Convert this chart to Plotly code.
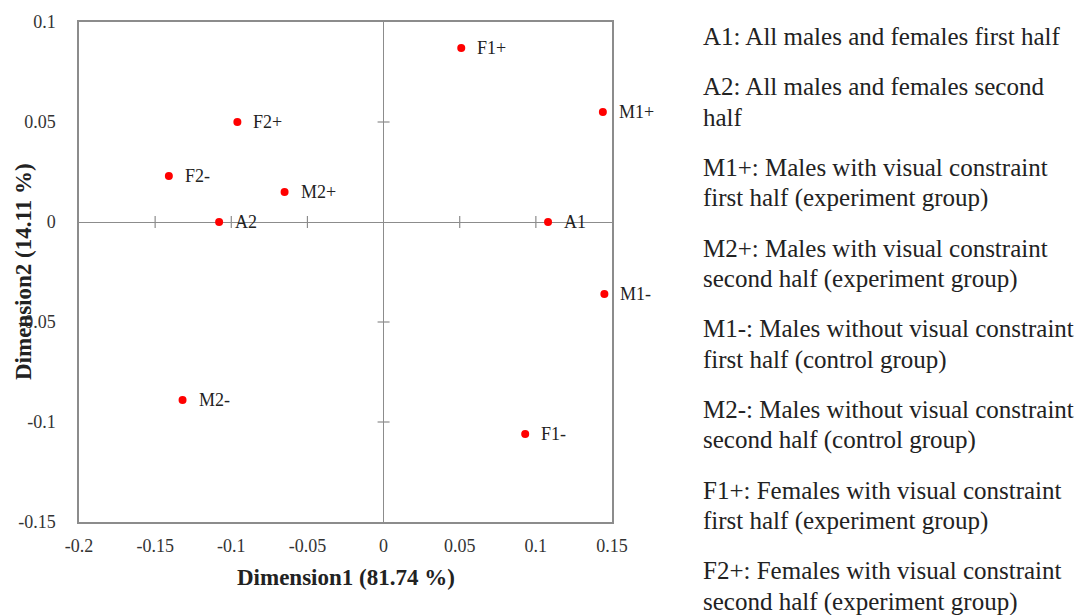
import plotly.graph_objects as go

labels = ["F1+", "M1+", "A1", "M1-", "F1-", "F2+", "F2-", "M2+", "A2", "M2-"]
dim1 = [0.051, 0.144, 0.108, 0.145, 0.093, -0.096, -0.141, -0.065, -0.108, -0.132]
dim2 = [0.087, 0.055, 0.0, -0.036, -0.106, 0.050, 0.023, 0.015, 0.0, -0.089]

x_ticks = [-0.2, -0.15, -0.1, -0.05, 0, 0.05, 0.1, 0.15]
x_ticklabels = ["-0.2", "-0.15", "-0.1", "-0.05", "0", "0.05", "0.1", "0.15"]
y_ticks = [-0.15, -0.1, -0.05, 0, 0.05, 0.1]
y_ticklabels = ["-0.15", "-0.1", "-0.05", "0", "0.05", "0.1"]

legend_lines = [
    ["A1: All males and females first half"],
    ["A2: All males and females second", "half"],
    ["M1+: Males with visual constraint", "first half (experiment group)"],
    ["M2+: Males with visual constraint", "second half (experiment group)"],
    ["M1-: Males without visual constraint", "first half (control group)"],
    ["M2-: Males without visual constraint", "second half (control group)"],
    ["F1+: Females with visual constraint", "first half (experiment group)"],
    ["F2+: Females with visual constraint", "second half (experiment group)"],
]

SERIF = "Liberation Serif"
GRAY = "#8c8c8c"

fig = go.Figure()
fig.add_trace(go.Scatter(
    x=dim1, y=dim2, mode="markers",
    marker=dict(color="#ff0000", size=8),
    hoverinfo="skip", showlegend=False,
))

# point labels
for xv, yv, t in zip(dim1, dim2, labels):
    fig.add_annotation(x=xv, y=yv, text=t, showarrow=False, xanchor="left",
                       yanchor="middle", xshift=14,
                       font=dict(family=SERIF, size=18, color="#222"))

# cross axis lines through origin with tick marks
inner_x = [v for v in x_ticks if v not in (x_ticks[0], x_ticks[-1], 0)]
inner_y = [v for v in y_ticks if v not in (y_ticks[0], y_ticks[-1], 0)]
for v in inner_x:
    fig.add_shape(type="line", xref="x", yref="y", x0=v, x1=v,
                  ysizemode="pixel", yanchor=0, y0=-6, y1=6,
                  line=dict(color=GRAY, width=1.2))
for v in inner_y:
    fig.add_shape(type="line", xref="x", yref="y", y0=v, y1=v,
                  xsizemode="pixel", xanchor=0, x0=-6, x1=6,
                  line=dict(color=GRAY, width=1.2))

# axis titles
fig.add_annotation(xref="paper", yref="paper", x=0.5, y=0, yshift=-55,
                   text="<b>Dimension1 (81.74 %)</b>", showarrow=False,
                   xanchor="center", yanchor="middle",
                   font=dict(family=SERIF, size=23, color="#222"))
fig.add_annotation(xref="paper", yref="paper", x=0, y=0.5, xshift=-56,
                   text="<b>Dimension2 (14.11 %)</b>", showarrow=False,
                   textangle=-90, xanchor="center", yanchor="middle",
                   font=dict(family=SERIF, size=23, color="#222"))

# legend text on right
y_pos = 35
for entry in legend_lines:
    for i, line in enumerate(entry):
        fig.add_annotation(xref="paper", yref="paper", x=1.0, y=1 - (y_pos - 20) / 502,
                           xshift=89, text=line, showarrow=False,
                           xanchor="left", yanchor="middle",
                           font=dict(family=SERIF, size=25, color="#222"))
        y_pos += 31
    y_pos += 50 - 31

fig.update_xaxes(
    range=[-0.2, 0.15], tickvals=x_ticks, ticktext=x_ticklabels,
    showline=True, mirror=True, linecolor=GRAY, linewidth=1.5,
    showgrid=False, zeroline=True, zerolinecolor=GRAY, zerolinewidth=1.2,
    ticks="", ticklabelstandoff=7,
    tickfont=dict(family=SERIF, size=18, color="#333"),
)
fig.update_yaxes(
    range=[-0.15, 0.1], tickvals=y_ticks, ticktext=y_ticklabels,
    showline=True, mirror=True, linecolor=GRAY, linewidth=1.5,
    showgrid=False, zeroline=True, zerolinecolor=GRAY, zerolinewidth=1.2,
    ticks="", ticklabelstandoff=18,
    tickfont=dict(family=SERIF, size=18, color="#333"),
)

fig.update_layout(
    width=1077, height=615,
    margin=dict(l=79, r=465, t=20, b=93),
    plot_bgcolor="white", paper_bgcolor="white",
    showlegend=False,
)

fig.write_html("out.html")
